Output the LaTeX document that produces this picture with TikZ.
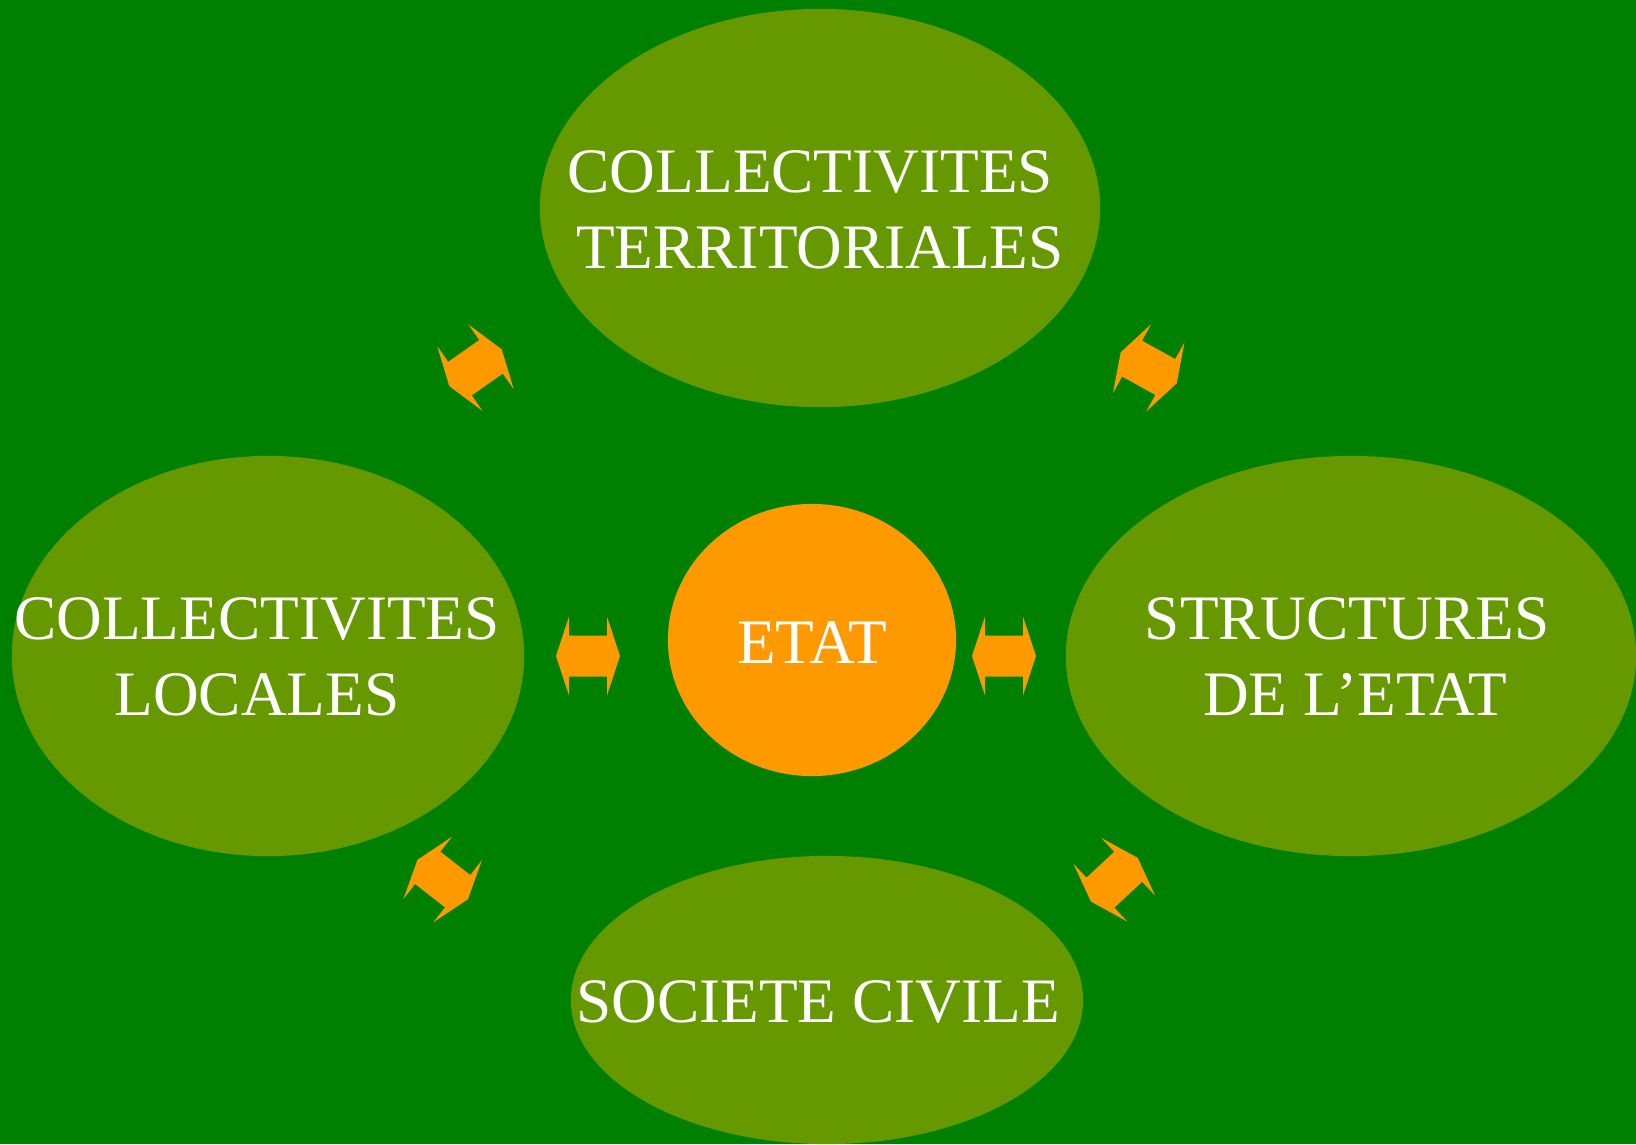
\documentclass[tikz,border=0pt]{standalone}
\usepackage{fontspec}
\setmainfont{Liberation Serif}
\usetikzlibrary{shapes.geometric}
\definecolor{bggreen}{RGB}{0,128,0}
\definecolor{blobgreen}{RGB}{102,153,0}
\definecolor{arrowor}{RGB}{255,153,0}
\begin{document}
\begin{tikzpicture}[x=0.01cm,y=-0.01cm,
    blob/.style={ellipse,fill=blobgreen,inner sep=0},
    lbl/.style={text=white,align=center,inner sep=0,font=\fontsize{18}{21.6}\selectfont},
    link/.pic={\fill[arrowor] (-32,0) -- (-19,-39.5) -- (-19,-20.5) -- (19,-20.5) -- (19,-39.5)
      -- (32,0) -- (19,39.5) -- (19,20.5) -- (-19,20.5) -- (-19,39.5) -- cycle;}]
  \useasboundingbox (0,0) rectangle (1636,1144);
  \clip (0,0) rectangle (1636,1144);
  \fill[bggreen] (0,0) rectangle (1636,1144);

  \node[blob,minimum width=5.6cm,minimum height=3.98cm] (terr) at (820,208) {};
  \node[blob,minimum width=5.12cm,minimum height=4cm] (locales) at (268,656) {};
  \node[blob,minimum width=5.7cm,minimum height=4cm] (struct) at (1351,656) {};
  \node[blob,minimum width=5.12cm,minimum height=2.88cm] (civile) at (827,1000) {};
  \node[ellipse,fill=arrowor,inner sep=0,minimum width=2.88cm,minimum height=2.72cm] (etat) at (812,640) {};

  \node[lbl] (terrtxt) at (820,210) {COLLECTIVITES\kern5.5pt\\TERRITORIALES};
  \node[lbl] (localestxt) at (257,657) {COLLECTIVITES\\LOCALES};
  \node[lbl] (structtxt) at (1355,657) {STRUCTURES\kern4.5pt\\DE L’ETAT};
  \node[lbl] (civiletxt) at (818,1002) {SOCIETE CIVILE};
  \node[lbl] (etattxt) at (812,643) {ETAT};

  \pic[rotate=35] (a1) at (475.5,367.7) {link};
  \pic[rotate=-29] (a2) at (1148.7,367.8) {link};
  \pic (a3) at (588,656) {link};
  \pic (a4) at (1004,656) {link};
  \pic[rotate=-38] (a5) at (442.7,879.5) {link};
  \pic[rotate=43] (a6) at (1114.3,879.7) {link};
\end{tikzpicture}
\end{document}
